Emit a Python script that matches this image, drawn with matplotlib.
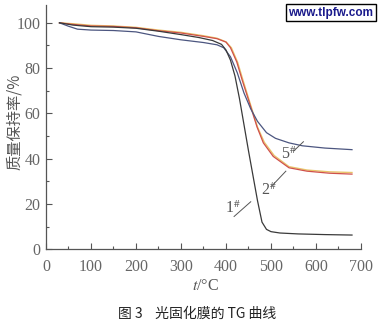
import matplotlib
matplotlib.use("Agg")
import matplotlib.pyplot as plt
from matplotlib.ticker import MultipleLocator

plt.rcParams['font.family'] = 'serif'
plt.rcParams['font.serif'] = ['Liberation Serif', 'DejaVu Serif']
plt.rcParams['mathtext.fontset'] = 'stix'

# 1# 样品
t1 = [30, 60, 100, 150, 200, 250, 300, 340, 370, 390, 400, 410, 420, 430, 440, 450,
      460, 470, 480, 490, 500, 520, 560, 620, 680]
w1 = [100, 99.0, 98.3, 98.1, 97.6, 96.3, 94.8, 93.5, 92.2, 90.5, 88.0, 83.5, 76.5, 66.5,
      55.0, 43.5, 32.5, 21.5, 12.0, 8.8, 7.8, 7.2, 6.8, 6.5, 6.3]

# 2# 样品
t2 = [30, 60, 100, 150, 200, 250, 300, 350, 380, 400, 410, 424, 436, 450, 469, 483,
      505, 540, 580, 630, 680]
w2 = [100, 99.3, 98.6, 98.4, 97.8, 96.5, 95.5, 94.0, 93.0, 91.5, 89.0, 82.7, 74.7,
      66.0, 54.0, 47.0, 41.0, 36.0, 34.5, 33.6, 33.2]

# 另一条接近 2# 的曲线 (黄色)
t3 = [30, 60, 100, 150, 200, 250, 300, 350, 380, 400, 412, 426, 438, 452, 470, 485,
      507, 540, 580, 630, 680]
w3 = [100, 99.6, 98.9, 98.6, 98.0, 96.8, 95.8, 94.3, 93.2, 91.6, 89.0, 82.5, 74.5,
      65.5, 54.0, 47.3, 41.4, 36.5, 35.0, 34.2, 33.9]

# 5# 样品
t5 = [30, 50, 70, 100, 150, 200, 250, 300, 350, 380, 395, 410, 425, 440, 455, 470,
      490, 510, 540, 570, 620, 680]
w5 = [100, 98.5, 97.2, 96.8, 96.6, 96.0, 94.0, 92.5, 91.3, 90.3, 89.0, 85.0, 78.0,
      69.0, 62.0, 56.5, 51.5, 49.0, 47.0, 45.7, 44.7, 44.0]

fig = plt.figure(figsize=(3.8, 3.29), dpi=100)
ax = fig.add_axes([0.121, 0.2422, 0.829, 0.7435])

ax.plot(t3, w3, color='#e8c46a', lw=1.0)
ax.plot(t2, w2, color='#d0504a', lw=0.9)
ax.plot(t5, w5, color='#4c5680', lw=0.9)
ax.plot(t1, w1, color='#3a3a3a', lw=0.9)

ax.set_xlim(0, 700)
ax.set_ylim(0, 108)
ax.xaxis.set_major_locator(MultipleLocator(100))
ax.xaxis.set_minor_locator(MultipleLocator(50))
ax.yaxis.set_minor_locator(MultipleLocator(10))
ax.set_yticks([0, 20, 40, 60, 80, 100])
ax.tick_params(which='both', direction='in', labelsize=11.5, colors='#555555',
               labelcolor='#666666')
ax.tick_params(which='major', length=4, width=0.8)
ax.tick_params(which='minor', length=2.5, width=0.8)
ax.tick_params(axis='x', pad=7)
ax.tick_params(axis='y', pad=4)
for s in ['top', 'right']:
    ax.spines[s].set_visible(False)
for s in ['left', 'bottom']:
    ax.spines[s].set_color('#555555')
    ax.spines[s].set_linewidth(0.9)

# 曲线标注
lab = dict(fontsize=11.5, color='#555555')
ax.text(398, 16, r'1$^{\#}$', **lab)
ax.plot([418, 455], [14.5, 21], color='#555555', lw=0.7)
ax.text(478, 24, r'2$^{\#}$', **lab)
ax.plot([502, 533], [28, 34.5], color='#555555', lw=0.7)
ax.text(523, 40, r'5$^{\#}$', **lab)
ax.plot([551, 572], [43.5, 47.5], color='#555555', lw=0.7)

fig.text(0.038, 0.63, '质量保持率/%', rotation=90, ha='center', va='center',
         fontsize=11, color='#555555', family=['Noto Sans CJK SC', 'DejaVu Sans'])
fig.text(0.54, 0.132, r'$t$/°C', ha='center', va='center', fontsize=11.5, color='#555555')
fig.text(0.52, 0.045, '图 3    光固化膜的 TG 曲线', ha='center', va='center',
         fontsize=10, color='#222222', family=['Noto Sans CJK SC', 'DejaVu Sans'])

fig.text(0.871, 0.962, 'www.tlpfw.com', ha='center', va='center', fontsize=8.5,
         fontweight='bold', color='#1a1a8c', family='Liberation Sans',
         bbox=dict(boxstyle='square,pad=0.25', facecolor='white', edgecolor='black', lw=1))

fig.savefig('out.png', dpi=100)
